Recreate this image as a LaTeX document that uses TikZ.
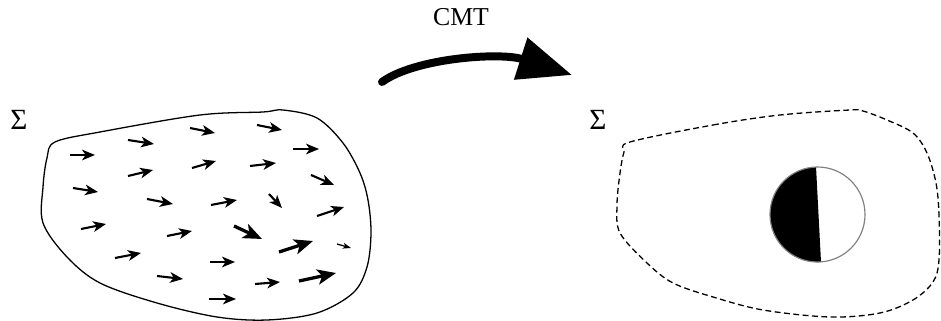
\documentclass[tikz,border=0pt]{standalone}
\usepackage{fontspec}
\setmainfont{Liberation Serif}
\usetikzlibrary{arrows.meta}
\tikzstyle{vec} = [line width=1.8pt, -{Stealth[length=11pt, width=9pt, inset=3pt]}]
\tikzstyle{bigvec} = [line width=2.8pt, -{Stealth[length=16pt, width=13pt, inset=4pt]}]
\tikzstyle{tinyvec} = [line width=1.1pt, -{Stealth[length=7pt, width=5pt, inset=2pt]}]
\tikzstyle{cmtarrow} = [line width=6.8pt, line cap=round, -{Triangle[length=46pt, width=36pt]}]

\begin{document}
\begin{tikzpicture}[x=0.03cm, y=-0.03cm]
  \useasboundingbox (0,0) rectangle (941,321);
  % manifold before the transformation
  \draw[line width=1.1pt, line join=round] plot[smooth cycle, tension=0.55] coordinates {
    (55,142) (100,132) (200,115) (263,112) (283,110) (317,118) (343,143) (360,173)
    (368,200) (371,233) (367,267) (353,293) (317,313) (267,320) (217,317) (157,303)
    (100,283) (67,257) (43,223) (43,187) (47,158)};
  \node[font=\fontsize{25}{28}\selectfont] (sigl) at (19,120) {Σ};
  % vector field
  \foreach \x/\y/\u/\v in {70/155/95/155, 128/140/154/144, 190/128/215/133, 257/125/282/130,
      293/149/319/149, 128/176/153/170, 192/168/216/161, 250/166/276/163, 311/175/334/185,
      73/188/98/192, 147/199/173/204, 211/205/237/200, 269/194/282/208, 317/216/344/207,
      81/229/106/224, 167/236/192/231, 115/258/141/253, 210/262/235/262, 157/276/183/279,
      255/284/280/282, 209/299/236/299}
    \draw[vec] (\x,\y) -- (\u,\v);
  \foreach \x/\y/\u/\v in {234/226/262/239, 279/252/313/241, 299/281/336/273}
    \draw[bigvec] (\x,\y) -- (\u,\v);
  \draw[tinyvec] (337,244) -- (351,248);
  % the map
  \node[font=\fontsize{22}{26}\selectfont] (cmt) at (461,17) {CMT};
  \coordinate (cmtstart) at (382,82);
  \coordinate (cmtend) at (572,75);
  \draw[cmtarrow] (cmtstart) .. controls (415,58) and (500,52) .. (cmtend);
  % manifold after the transformation
  \draw[line width=1.1pt, dash pattern=on 5pt off 3pt, line join=round] plot[smooth cycle, tension=0.55] coordinates {
    (630,142) (713,125) (780,115) (850,110) (863,111) (887,120) (913,133) (927,153)
    (936,183) (939,215) (939,260) (933,282) (913,300) (880,313) (830,317) (763,310)
    (713,297) (673,283) (647,263) (620,233) (617,205) (620,173) (624,152)};
  \node[font=\fontsize{25}{28}\selectfont] (sigr) at (598,120) {Σ};
  % defect
  \fill[white] (817.5,214.5) circle[radius=47.5];
  \fill[black] (821,262) arc[start angle=85.8, end angle=268.2, radius=47.5] -- cycle;
  \draw[gray, line width=1pt] (817.5,214.5) circle[radius=47.5];
\end{tikzpicture}
\end{document}
